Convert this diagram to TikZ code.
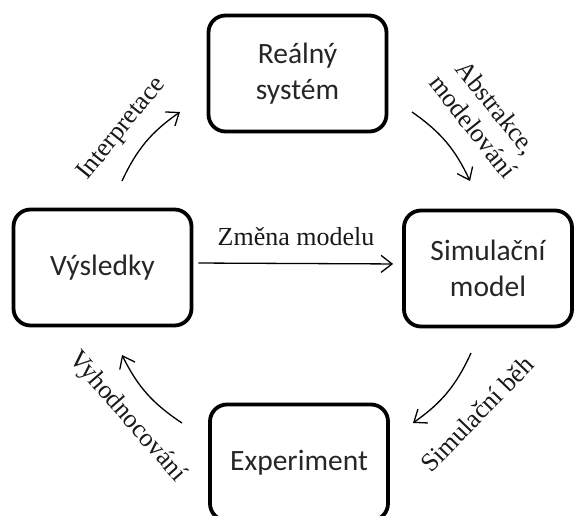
\documentclass[tikz,border=0pt]{standalone}
\usepackage{fontspec}
\setmainfont{Liberation Serif}
\newfontfamily\boxfont{Carlito}
\usetikzlibrary{arrows.meta}
\begin{document}
\begin{tikzpicture}[x=1pt,y=1pt,
  stagebox/.style={draw, line width=3.8pt, rounded corners=17pt, minimum width=178pt, minimum height=116pt,
    align=center, font=\boxfont\fontsize{29.5}{36}\selectfont, text=black!85, inner sep=0pt},
  lbl/.style={font=\fontsize{26}{30}\selectfont, align=center, inner sep=0pt, text=black!90},
  arr/.style={line width=1.3pt, -{Straight Barb[length=11pt,width=17pt,line width=1.3pt]}}]
\clip (0,0) rectangle (575,-516);
\fill[white] (0,0) rectangle (575,-516);
\node[stagebox] (R) at (297.5,-73.5) {Reálný\\systém};
\node[stagebox] (V) at (102.5,-267.5) {Výsledky};
\node[stagebox, minimum width=168pt] (S) at (488,-268.5) {Simulační\\model};
\node[stagebox] (E) at (299,-462.5) {Experiment};
% straight arrow
\draw[arr, shorten <=5pt, shorten >=9pt] ([yshift=4.5pt]V.east) -- ([yshift=4.5pt]S.west);
\node[lbl] (zm) at (296,-237) {Změna modelu};
% curved arrows
\coordinate (i1) at (122,-181);
\coordinate (i2) at (180,-112);
\draw[arr] (i1) to[bend left=15] (i2);
\node[lbl, rotate=51] (it) at (122,-129) {Interpretace};
\coordinate (a1) at (412,-112);
\coordinate (a2) at (470,-181);
\draw[arr] (a1) to[bend left=15] (a2);
\node[lbl, rotate=-51.5] (ab) at (485,-117) {Abstrakce,\\modelování};
\coordinate (s1) at (471,-353);
\coordinate (s2) at (413,-423);
\draw[arr] (s1) to[bend left=15] (s2);
\node[lbl, rotate=46] (sb) at (477,-414) {Simulační běh};
\coordinate (v1) at (182,-423);
\coordinate (v2) at (122,-355);
\draw[arr] (v1) to[bend left=15] (v2);
\node[lbl, rotate=-49] (vh) at (127,-417) {Vyhodnocování};
\end{tikzpicture}
\end{document}
